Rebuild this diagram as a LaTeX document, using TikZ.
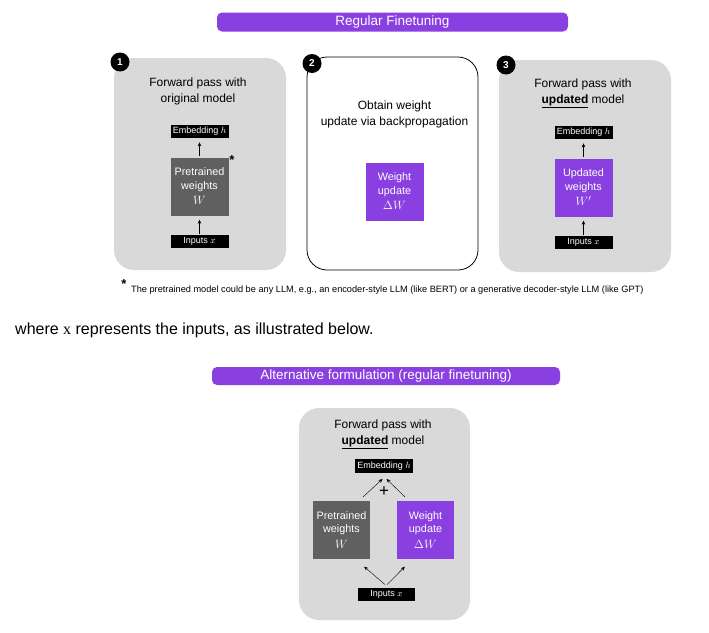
\documentclass[tikz,border=0pt]{standalone}
\usepackage{fontspec}
\setmainfont{Liberation Sans}
\newfontfamily\serifx{Liberation Serif}
\usepackage{tikz}
\newcommand{\boxsize}{58pt}
\newcommand{\tagwidth}{58pt}
\newcommand{\tagheight}{13.5pt}
\newcommand{\bigmath}[1]{{\fontsize{12.5}{14}\selectfont$#1$}}
\definecolor{myPurple}{RGB}{138,64,224}
\definecolor{myGray}{RGB}{217,217,217}
\definecolor{myDark}{RGB}{96,96,96}
\usetikzlibrary{arrows.meta,calc,positioning}
\tikzset{
  >={Stealth[length=4pt,width=3.5pt]},
  node distance=19pt,
  panel/.style={rounded corners=20pt,minimum width=172pt,minimum height=212pt,inner sep=0},
  rect/.style={fill=myDark,text=white,minimum width=\boxsize,minimum height=\boxsize,inner sep=0,align=center,font=\fontsize{10.8}{13.5}\selectfont},
  tag/.style={fill=black,text=white,minimum width=\tagwidth,minimum height=\tagheight,inner sep=0,font=\fontsize{9}{10}\selectfont},
  badge/.style={circle,fill=black,text=white,minimum size=19pt,inner sep=0,font=\bfseries\fontsize{10}{10}\selectfont},
  banner/.style={fill=myPurple,text=white,rounded corners=5pt,minimum height=19pt,inner sep=0,font=\fontsize{13.5}{14}\selectfont},
  heading/.style={align=center,font=\fontsize{12}{16}\selectfont},
  line/.style={draw,->,thin},
  gap/.style={shorten >=4pt,shorten <=1pt},
  starmark/.style={inner sep=0,font=\bfseries\fontsize{13}{13}\selectfont},
}

\begin{document}
\begin{tikzpicture}[x=1pt,y=-1pt]
  \useasboundingbox (0,0) rectangle (709,632);
  % regular finetuning
  \node (banner1) [banner,minimum width=351pt] at (392.5,22) {Regular Finetuning};

  % step 1
  \node (panel1) [panel,fill=myGray] at (200,164) {};
  \node (badge1) [badge] at (120,62) {1};
  \node (head1) [heading] at (198,91) {Forward pass with\\original model};
  \node (w1) [rect] at (199.5,186.5) {Pretrained\\weights\\[2pt]\bigmath{W}};
  \node (emb1) [tag,above=of w1] {Embedding $h$};
  \node (in1) [tag,below=of w1] {Inputs $x$};
  \node (star1) [starmark] at (232,160) {*};
  \path [line,gap] (w1) -- (emb1);
  \path [line,gap] (in1) -- (w1);

  % step 2
  \node (panel2) [panel,fill=white,draw=black,line width=0.8pt,minimum width=171pt,minimum height=213pt] at (392.5,163.5) {};
  \node (badge2) [badge] at (312,63.5) {2};
  \node (head2) [heading] at (394.5,114) {Obtain weight\\update via backpropagation};
  \node (dw2) [rect,fill=myPurple] at (394.5,191.5) {Weight\\update\\[2pt]\bigmath{\Delta W}};

  % step 3
  \node (panel3) [panel,fill=myGray] at (585,166) {};
  \node (badge3) [badge] at (506,65) {3};
  \node (head3) [heading] at (583,93) {Forward pass with\\\underline{\textbf{updated}} model};
  \node (w3) [rect,fill=myPurple] at (583.5,187.5) {Updated\\weights\\[2pt]\bigmath{W'}};
  \node (emb3) [tag,above=of w3] {Embedding $h$};
  \node (in3) [tag,below=of w3] {Inputs $x$};
  \path [line,gap] (w3) -- (emb3);
  \path [line,gap] (in3) -- (w3);

  % footnote
  \node (fnstar) [starmark] at (124,284) {*};
  \node (note) [anchor=west,inner sep=0,font=\fontsize{9.2}{11}\selectfont] at (131,290)
    {The pretrained model could be any LLM, e.g., an encoder-style LLM (like BERT) or a generative decoder-style LLM (like GPT)};

  \node (where) [anchor=west,inner sep=0,font=\fontsize{16}{18}\selectfont] at (15,330)
    {where {\serifx x} represents the inputs, as illustrated below.};

  % alternative formulation
  \node (banner2) [banner,minimum width=348pt,minimum height=18pt] at (386,376) {Alternative formulation (regular finetuning)};
  \node (panel4) [panel,fill=myGray,minimum width=171pt] at (384.5,514) {};
  \node (head4) [heading] at (383,434) {Forward pass with\\\underline{\textbf{updated}} model};
  \node (emb4) [tag] at (384,466) {Embedding $h$};
  \node (pw4) [rect,minimum width=57pt] at (341.5,530) {Pretrained\\weights\\[2pt]\bigmath{W}};
  \node (du4) [rect,fill=myPurple,minimum width=57pt] at (425.5,530) {Weight\\update\\[2pt]\bigmath{\Delta W}};
  \node (in4) [tag,minimum width=57pt] at (386.5,594.5) {Inputs $x$};
  \node (plus) [font=\fontsize{17}{17}\selectfont] at (384,492) {+};
  \path [line] ($(pw4.north east)+(-7pt,4pt)$) -- ($(emb4.south)+(-1.5pt,-6pt)$);
  \path [line] ($(du4.north west)+(8pt,4pt)$) -- ($(emb4.south)+(2.5pt,-6pt)$);
  \path [line] ($(in4.north)+(-1.5pt,3pt)$) -- ($(pw4.south east)+(-6pt,-7.5pt)$);
  \path [line] ($(in4.north)+(0.5pt,3pt)$) -- ($(du4.south west)+(8pt,-7.5pt)$);
\end{tikzpicture}
\end{document}
